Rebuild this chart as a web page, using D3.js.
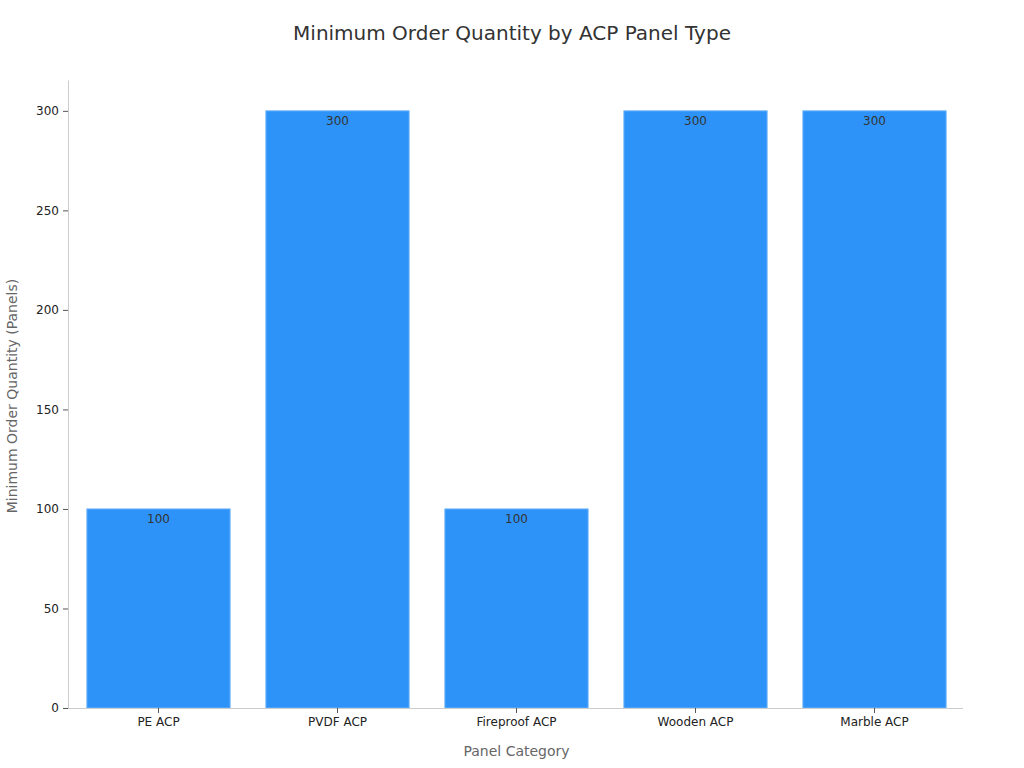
<!DOCTYPE html>
<html>
<head>
<meta charset="utf-8">
<script src="https://cdn.jsdelivr.net/npm/d3@7"></script>
<style>
	body { margin: 0; background: #fff; }
	text { font-family: "DejaVu Sans", sans-serif; }
</style>
</head>
<body>
<svg id="chart" width="1024" height="768"></svg>
<script>
// chart data
var categories = ["PE ACP", "PVDF ACP", "Fireproof ACP", "Wooden ACP", "Marble ACP"];
var moqValues = [100, 300, 100, 300, 300];
var yTicks = [0, 50, 100, 150, 200, 250, 300];

var svg = d3.select("#chart");
var plotLeft = 68, plotRight = 963, plotTop = 80, plotBottom = 708;

var x = d3.scaleBand()
	.domain(categories)
	.range([plotLeft + 1, plotRight + 1])
	.paddingInner(0.2)
	.paddingOuter(0.1);

var y = d3.scaleLinear()
	.domain([0, 315.5])
	.range([plotBottom, plotTop]);

// title
svg.append("text")
	.attr("x", 512)
	.attr("y", 40)
	.attr("text-anchor", "middle")
	.style("font-size", "20px")
	.style("fill", "#333")
	.text("Minimum Order Quantity by ACP Panel Type");

// bars
var data = categories.map(function(c, i){ return {cat: c, val: moqValues[i]}; });

svg.append("g").selectAll(".bar")
	.data(data)
.enter().append("rect")
	.attr("class", "bar")
	.attr("x", function(d){ return x(d.cat); })
	.attr("y", function(d){ return y(d.val); })
	.attr("width", x.bandwidth())
	.attr("height", function(d){ return y(0) - y(d.val); })
	.style("fill", "#2E93F8")
	.style("stroke", "#6AB2F8")
	.style("stroke-width", 1);

// value labels
svg.append("g").selectAll(".valLabel")
	.data(data)
.enter().append("text")
	.attr("class", "valLabel")
	.attr("x", function(d){ return x(d.cat) + x.bandwidth()/2; })
	.attr("y", function(d){ return y(d.val) + 14; })
	.attr("text-anchor", "middle")
	.style("font-size", "12px")
	.style("fill", "#333")
	.text(function(d){ return d.val; });

// y axis
var yAxis = svg.append("g")
	.attr("transform", "translate(" + plotLeft + ",0)")
	.call(d3.axisLeft(y).tickValues(yTicks).tickSize(5).tickPadding(4).tickSizeOuter(0));
yAxis.select(".domain").style("stroke", "#ccc");
yAxis.selectAll(".tick line").style("stroke", "#555");
yAxis.selectAll(".tick text")
	.style("font-size", "12px")
	.style("font-family", "DejaVu Sans, sans-serif")
	.style("fill", "#222");

// x axis (domain line spans the plot area)
var xAxis = svg.append("g")
	.attr("transform", "translate(0," + plotBottom + ")")
	.call(d3.axisBottom(x).tickSize(5).tickPadding(4).tickSizeOuter(0));
xAxis.select(".domain")
	.attr("d", "M" + plotLeft + ",0.5H" + plotRight)
	.style("stroke", "#ccc");
xAxis.selectAll(".tick line").style("stroke", "#555");
xAxis.selectAll(".tick text")
	.style("font-size", "12px")
	.style("font-family", "DejaVu Sans, sans-serif")
	.style("fill", "#222");

// axis titles
svg.append("text")
	.attr("x", (plotLeft + plotRight) / 2 + 1)
	.attr("y", 756)
	.attr("text-anchor", "middle")
	.style("font-size", "14px")
	.style("fill", "#666")
	.text("Panel Category");

svg.append("text")
	.attr("transform", "translate(17," + ((plotTop + plotBottom) / 2 + 2) + ") rotate(-90)")
	.attr("text-anchor", "middle")
	.style("font-size", "14px")
	.style("fill", "#666")
	.text("Minimum Order Quantity (Panels)");
</script>
</body>
</html>
